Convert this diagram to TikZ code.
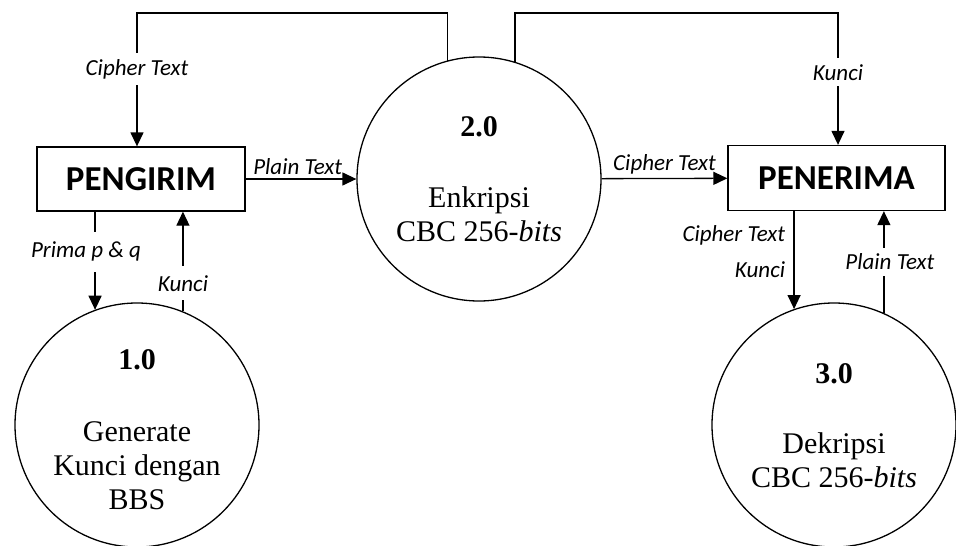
\documentclass[tikz,border=0pt]{standalone}
\usepackage{fontspec}
\setmainfont{Liberation Serif}
\newfontfamily\calib{Carlito}
\usetikzlibrary{arrows.meta, positioning, calc}

\tikzset{
  entity/.style={draw, rectangle, line width=1.3pt, inner sep=0pt, font=\calib\bfseries\fontsize{35}{40}\selectfont},
  proc/.style={draw, circle, line width=1.3pt, minimum size=244pt, inner sep=0pt},
  flow/.style={line width=1.3pt, -{Triangle[length=14pt, width=13pt]}},
  lbl/.style={font=\calib\itshape\fontsize{23}{26}\selectfont},
  gap/.style={lbl, fill=white, inner xsep=2pt, inner ysep=6pt},
  ptext/.style={font=\fontsize{30}{34}\selectfont, anchor=base, inner sep=0pt},
  pnum/.style={ptext, font=\bfseries\fontsize{30}{34}\selectfont}
}

\begin{document}
\begin{tikzpicture}[x=1pt, y=-1pt]
      \fill[white] (0,0) rectangle (956,546);
      \useasboundingbox (0,0) rectangle (956,546);

      % entitas luar
      \node[entity, minimum width=208pt, minimum height=64pt] (pengirim) at (141,179) {PENGIRIM};
      \node[entity, minimum width=217pt, minimum height=65pt] (penerima) at (836.5,178) {PENERIMA};

      % proses
      \node[proc] (p1) at (137,425) {};
      \node[proc] (p2) at (479,179) {};
      \node[proc] (p3) at (834,425) {};

      \node[pnum] (n1) at (137,369) {1.0};
      \node[ptext] (t1a) at (137,441) {Generate};
      \node[ptext] (t1b) at (137,475) {Kunci dengan};
      \node[ptext] (t1c) at (137,509) {BBS};

      \node[pnum] (n2) at (479,136) {2.0};
      \node[ptext] (t2a) at (479,207) {Enkripsi};
      \node[ptext] (t2b) at (479,241) {CBC 256-\textit{bits}};

      \node[pnum] (n3) at (834,383) {3.0};
      \node[ptext] (t3a) at (834,453) {Dekripsi};
      \node[ptext] (t3b) at (834,487) {CBC 256-\textit{bits}};

      % aliran data
      \coordinate (tl) at (137,13);
      \coordinate (tr) at (838,13);
      \draw[flow] (p2.105) |- (tl) -- node[gap, pos=0.42] (lct1) {Cipher Text} (tl |- pengirim.north);
      \draw[flow] (p2.73) |- (tr) -- node[gap, pos=0.45] (lk1) {Kunci} (tr |- penerima.north);

      \draw[flow] (pengirim) -- node[lbl, above, pos=0.47] (lpt1) {Plain Text} (p2);
      \draw[flow] (p2) -- node[lbl, above] (lct2) {Cipher Text} (penerima);

      \draw[flow] (pengirim.south -| p1.110) -- node[gap, pos=0.41, inner ysep=10pt, xshift=-9pt] (lpq) {Prima p \& q} (p1.110);
      \draw[flow] (p1.68) -- node[gap, pos=0.28, inner ysep=9pt] (lk2) {Kunci} (pengirim.south -| p1.68);

      \draw[flow] (penerima.south -| p3.109) -- node[lbl, left, pos=0.25, xshift=-5pt] (lct3) {Cipher Text}
        node[lbl, left, pos=0.6, xshift=-5pt] (lk3) {Kunci} (p3.109);
      \draw[flow] (p3.66) -- node[gap, pos=0.5, xshift=6pt] (lpt2) {Plain Text} (penerima.south -| p3.66);

    \end{tikzpicture}
\end{document}
